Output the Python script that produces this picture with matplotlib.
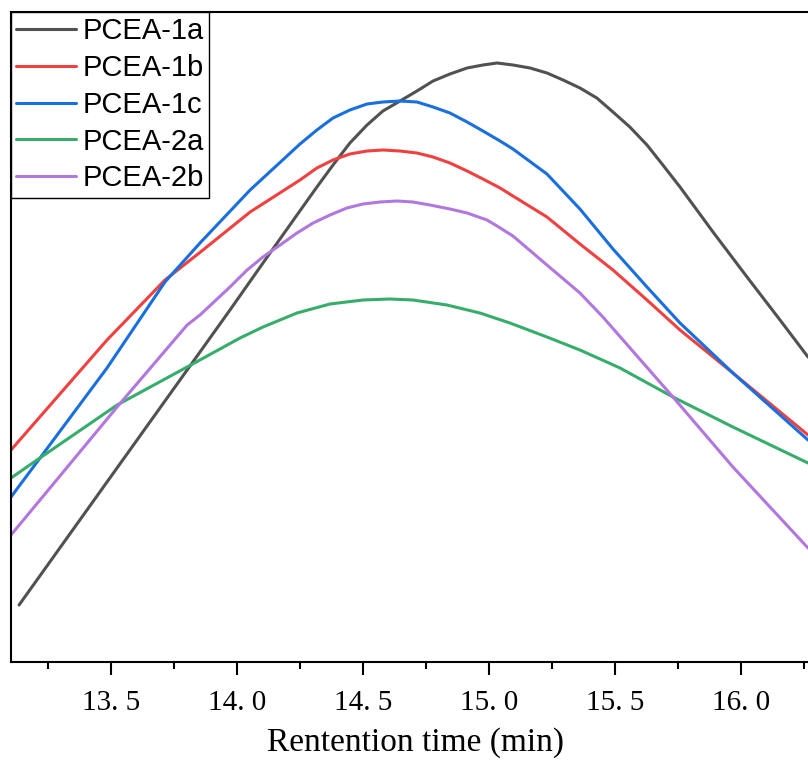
import numpy as np
import matplotlib
matplotlib.use('Agg')
import matplotlib.pyplot as plt
from matplotlib.ticker import MultipleLocator

# retention time (min) / intensity (a.u.)
x_1a = [13.135, 13.484, 13.802, 13.972, 14.103, 14.238, 14.317, 14.381, 14.448, 14.516,
        14.579, 14.647, 14.714, 14.778, 14.845, 14.913, 14.976, 15.032, 15.095, 15.163,
        15.230, 15.294, 15.361, 15.428, 15.492, 15.559, 15.627, 15.690, 15.758, 15.825,
        15.889, 16.024, 16.155, 16.266]
y_1a = [57, 180, 292, 352, 399, 447, 475, 497, 519, 537,
        551, 561, 571, 581, 588, 594, 597, 599, 597, 594,
        589, 582, 574, 564, 550, 535, 517, 497, 475, 452,
        430, 385, 342, 305]

x_1b = [13.103, 13.484, 13.714, 13.865, 14.052, 14.250, 14.317, 14.381, 14.448, 14.516,
        14.579, 14.647, 14.714, 14.778, 14.845, 14.913, 14.976, 15.044, 15.095, 15.230,
        15.361, 15.492, 15.627, 15.758, 15.968, 16.266]
y_1b = [212, 322, 382, 412, 450, 482, 494, 502, 508, 511,
        512, 511, 509, 505, 499, 491, 483, 474, 466, 445,
        418, 392, 362, 332, 289, 227]

x_1c = [13.103, 13.484, 13.714, 13.853, 14.052, 14.250, 14.317, 14.381, 14.448, 14.516,
        14.579, 14.647, 14.714, 14.778, 14.845, 14.913, 14.976, 15.044, 15.095, 15.230,
        15.361, 15.492, 15.627, 15.758, 15.968, 16.266]
y_1c = [165, 294, 380, 419, 472, 518, 532, 544, 552, 558,
        560, 561, 560, 555, 549, 540, 531, 521, 513, 488,
        453, 413, 375, 339, 289, 222]

x_2a = [13.103, 13.206, 13.524, 13.802, 14.012, 14.103, 14.238, 14.369, 14.500, 14.607,
        14.698, 14.833, 14.964, 15.083, 15.230, 15.361, 15.520, 15.730, 15.968, 16.266]
y_2a = [184, 202, 257, 295, 324, 335, 349, 358, 362, 363,
        362, 357, 349, 339, 325, 312, 294, 265, 235, 199]

x_2b = [13.103, 13.524, 13.802, 13.853, 13.972, 14.040, 14.103, 14.171, 14.238, 14.302,
        14.369, 14.436, 14.500, 14.567, 14.635, 14.698, 14.766, 14.845, 14.913, 14.992,
        15.032, 15.095, 15.230, 15.361, 15.452, 15.730, 15.968, 16.266]
y_2b = [127, 255, 337, 347, 375, 392, 405, 417, 429, 439,
        447, 454, 458, 460, 461, 460, 457, 453, 449, 442,
        436, 426, 397, 369, 345, 265, 195, 114]

labels = ['PCEA-1a', 'PCEA-1b', 'PCEA-1c', 'PCEA-2a', 'PCEA-2b']
colors = ['#515151', '#F14040', '#1A6FDF', '#37AD6B', '#B177DE']
xticks = [13.5, 14.0, 14.5, 15.0, 15.5, 16.0]
xticklabels = ['13. 5', '14. 0', '14. 5', '15. 0', '15. 5', '16. 0']

fig = plt.figure(figsize=(8.08, 7.62), dpi=100)
ax = fig.add_axes([11/808, 100/762, 797/808, 650/762])

series = [(x_1a, y_1a), (x_1b, y_1b), (x_1c, y_1c), (x_2a, y_2a), (x_2b, y_2b)]
for (xs, ys), lab, c in zip(series, labels, colors):
    ax.plot(xs, ys, color=c, lw=2.2, label=lab, solid_capstyle='round', solid_joinstyle='round')

ax.set_xlim(13.103, 16.266)
ax.set_ylim(0, 650)

ax.spines['right'].set_visible(False)
for s in ['left', 'bottom', 'top']:
    ax.spines[s].set_linewidth(1.5)

ax.set_yticks([])
ax.set_xticks(xticks)
ax.set_xticklabels(xticklabels, fontfamily='Liberation Serif', fontsize=21)
ax.xaxis.set_minor_locator(MultipleLocator(0.25))
ax.tick_params(axis='x', which='major', direction='out', length=9, width=1.5, pad=11)
ax.tick_params(axis='x', which='minor', direction='out', length=5, width=1.5)
ax.set_xlabel('Rentention time (min)', fontfamily='Liberation Serif', fontsize=24)
ax.xaxis.set_label_coords(0.507, -0.100)

leg = ax.legend(loc='upper left', bbox_to_anchor=(0, 1), borderaxespad=0,
                prop={'family': 'Liberation Sans', 'size': 21},
                handlelength=2.05, handletextpad=0.22, labelspacing=0.3,
                borderpad=0.18, fancybox=False, edgecolor='black', framealpha=1)
leg.get_frame().set_linewidth(1.0)

fig.savefig('out.png', dpi=100)
